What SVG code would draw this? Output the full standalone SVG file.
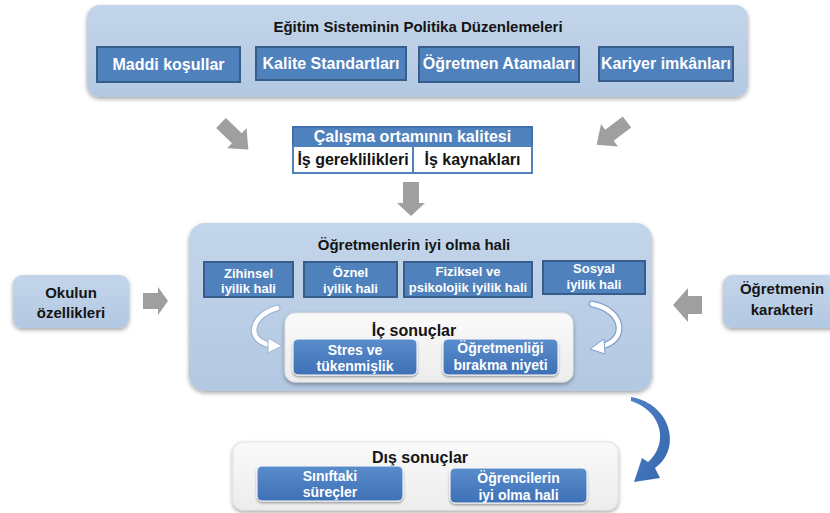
<svg xmlns="http://www.w3.org/2000/svg" width="830" height="513" viewBox="0 0 830 513">
<defs>
  <filter id="sh" x="-10%" y="-10%" width="120%" height="130%">
    <feDropShadow dx="0" dy="2" stdDeviation="2" flood-color="#000" flood-opacity="0.35"/>
  </filter>
  <filter id="sh2" x="-10%" y="-10%" width="120%" height="140%">
    <feDropShadow dx="0" dy="1.5" stdDeviation="1.2" flood-color="#000" flood-opacity="0.4"/>
  </filter>
  <linearGradient id="lb" x1="0" y1="0" x2="0" y2="1">
    <stop offset="0" stop-color="#c3d5ea"/>
    <stop offset="1" stop-color="#b3c8e2"/>
  </linearGradient>
  <linearGradient id="wb" x1="0" y1="0" x2="0" y2="1">
    <stop offset="0" stop-color="#fafafa"/>
    <stop offset="1" stop-color="#ececec"/>
  </linearGradient>
  <linearGradient id="db" x1="0" y1="0" x2="0" y2="1">
    <stop offset="0" stop-color="#5a8dcc"/>
    <stop offset="1" stop-color="#3e70b6"/>
  </linearGradient>
  <linearGradient id="ba" x1="0" y1="0" x2="1" y2="1">
    <stop offset="0" stop-color="#4f82c6"/>
    <stop offset="1" stop-color="#3566ad"/>
  </linearGradient>
</defs>
<style>
  text { font-family: "Liberation Sans", Arial, sans-serif; font-weight: bold; text-anchor: middle; }
  .cont { fill: url(#lb); filter: url(#sh); }
  .sq { fill: #4f81bd; stroke: #385d8a; stroke-width: 2; }
  .rb { fill: url(#db); stroke: #ffffff; stroke-width: 1; filter: url(#sh2); }
  .panel { fill: url(#wb); stroke: #e2e2e2; stroke-width: 1; filter: url(#sh); }
  .wt { fill: #ffffff; }
  .bk { fill: #141414; }
  .ga { fill: #9f9f9f; }
  .f16 { font-size: 16px; }
  .f15 { font-size: 15px; }
  .f14 { font-size: 14px; }
  .f13 { font-size: 13px; }
</style>

<g id="politika">
  <rect class="cont" x="87" y="5" width="661" height="92" rx="13"/>
  <text class="bk f15" x="418" y="32">Eğitim Sisteminin Politika Düzenlemeleri</text>
  <g id="maddi">
    <rect class="sq" x="97" y="47" width="143" height="35"/>
    <text class="wt f16" x="168.5" y="70">Maddi koşullar</text>
  </g>
  <g id="kalite">
    <rect class="sq" x="256" y="47" width="150" height="33"/>
    <text class="wt f16" x="331" y="69">Kalite Standartları</text>
  </g>
  <g id="atama">
    <rect class="sq" x="419" y="47" width="160" height="35"/>
    <text class="wt f16" x="499" y="69">Öğretmen Atamaları</text>
  </g>
  <g id="kariyer">
    <rect class="sq" x="599" y="47" width="134" height="34"/>
    <text class="wt f16" x="666" y="69">Kariyer imkânları</text>
  </g>
</g>

<g id="calisma">
  <rect x="293" y="127" width="239" height="19" fill="#4f81bd" stroke="#3f6fae" stroke-width="2"/>
  <text class="wt f16" x="412.5" y="142">Çalışma ortamının kalitesi</text>
  <rect x="293" y="146" width="120" height="27" fill="#ffffff" stroke="#4f81bd" stroke-width="2"/>
  <rect x="413" y="146" width="119" height="27" fill="#ffffff" stroke="#4f81bd" stroke-width="2"/>
  <text class="bk f16" x="353" y="165">İş gereklilikleri</text>
  <text class="bk f16" x="472.5" y="165">İş kaynakları</text>
</g>

<g id="iyiolma">
  <rect class="cont" x="189" y="223" width="463" height="168" rx="16"/>
  <text class="bk f15" x="414" y="250">Öğretmenlerin iyi olma hali</text>
  <g id="zihinsel">
    <rect class="sq" x="204" y="262" width="89" height="35"/>
    <text class="wt f13" x="248.5" y="278">Zihinsel</text>
    <text class="wt f13" x="248.5" y="293">iyilik hali</text>
  </g>
  <g id="oznel">
    <rect class="sq" x="304" y="262" width="93" height="35"/>
    <text class="wt f13" x="350.5" y="277">Öznel</text>
    <text class="wt f13" x="350.5" y="293">iyilik hali</text>
  </g>
  <g id="fiziksel">
    <rect class="sq" x="404" y="262" width="128" height="35"/>
    <text class="wt f13" x="468" y="276">Fiziksel ve</text>
    <text class="wt f13" x="468" y="292">psikolojik iyilik hali</text>
  </g>
  <g id="sosyal">
    <rect class="sq" x="543" y="261" width="102" height="33"/>
    <text class="wt f13" x="594" y="273">Sosyal</text>
    <text class="wt f13" x="594" y="289">iyilik hali</text>
  </g>
  <g id="icsonuclar">
    <rect class="panel" x="285" y="313" width="288" height="69" rx="10"/>
    <text class="bk f16" x="414" y="336">İç sonuçlar</text>
    <g id="stres">
      <rect class="rb" x="293" y="339" width="124" height="36" rx="5"/>
      <text class="wt f14" x="355" y="355">Stres ve</text>
      <text class="wt f14" x="355" y="371">tükenmişlik</text>
    </g>
    <g id="birakma">
      <rect class="rb" x="443" y="339" width="115" height="36" rx="5"/>
      <text class="wt f14" x="500.5" y="353">Öğretmenliği</text>
      <text class="wt f14" x="500.5" y="370">bırakma niyeti</text>
    </g>
  </g>
</g>

<g id="okul">
  <rect class="cont" x="13" y="275" width="116" height="53" rx="9"/>
  <text class="bk f15" x="71" y="298">Okulun</text>
  <text class="bk f15" x="71" y="318">özellikleri</text>
</g>

<g id="karakter">
  <rect class="cont" x="723" y="275" width="120" height="53" rx="9"/>
  <text class="bk f15" x="782" y="294">Öğretmenin</text>
  <text class="bk f15" x="782" y="315">karakteri</text>
</g>

<g id="dissonuclar">
  <rect class="panel" x="233" y="442" width="385" height="68" rx="10"/>
  <text class="bk f16" x="420" y="463">Dış sonuçlar</text>
  <g id="sinif">
    <rect class="rb" x="257" y="466" width="146" height="35" rx="5"/>
    <text class="wt f14" x="330" y="481">Sınıftaki</text>
    <text class="wt f14" x="330" y="497">süreçler</text>
  </g>
  <g id="ogrenci">
    <rect class="rb" x="450" y="468" width="137" height="35" rx="5"/>
    <text class="wt f14" x="518.5" y="483">Öğrencilerin</text>
    <text class="wt f14" x="518.5" y="500">iyi olma hali</text>
  </g>
</g>

<g id="connectors">
  <polygon class="ga" transform="translate(221,123) rotate(44)" points="0,-7 22,-7 22,-14 38,0 22,14 22,7 0,7"/>
  <polygon class="ga" transform="translate(627,122) rotate(143)" points="0,-7 22,-7 22,-14 38,0 22,14 22,7 0,7"/>
  <polygon class="ga" points="403,182 419,182 419,203 425,203 411,216 397,203 403,203"/>
  <polygon class="ga" points="143,293 158,293 158,287 168,301 158,315 158,309 143,309"/>
  <polygon class="ga" points="702,296 688,296 688,288 673,305 688,322 688,314 702,314"/>
  <g id="curl-left">
    <path d="M 277 308 C 250 316 246 340 270 345" fill="none" stroke="#9db5d8" stroke-width="7" stroke-linecap="round"/>
    <path d="M 277 308 C 250 316 246 340 270 345" fill="none" stroke="#ffffff" stroke-width="4.5" stroke-linecap="round"/>
    <polygon points="268,338 282,346 268,353" fill="#ffffff" stroke="#9db5d8" stroke-width="1"/>
  </g>
  <g id="curl-right">
    <path d="M 592 304 C 624 310 628 340 602 346" fill="none" stroke="#7e9fcf" stroke-width="7" stroke-linecap="round"/>
    <path d="M 592 304 C 624 310 628 340 602 346" fill="none" stroke="#ffffff" stroke-width="4.5" stroke-linecap="round"/>
    <polygon points="604,339 590,349 605,354" fill="#ffffff" stroke="#7e9fcf" stroke-width="1"/>
  </g>
  <path d="M 631 397 C 672 404 682 450 655 468 L 660 478 L 634 482 L 642 458 L 648 462 C 668 445 664 412 631 401 Z" fill="url(#ba)"/>
</g>
</svg>
